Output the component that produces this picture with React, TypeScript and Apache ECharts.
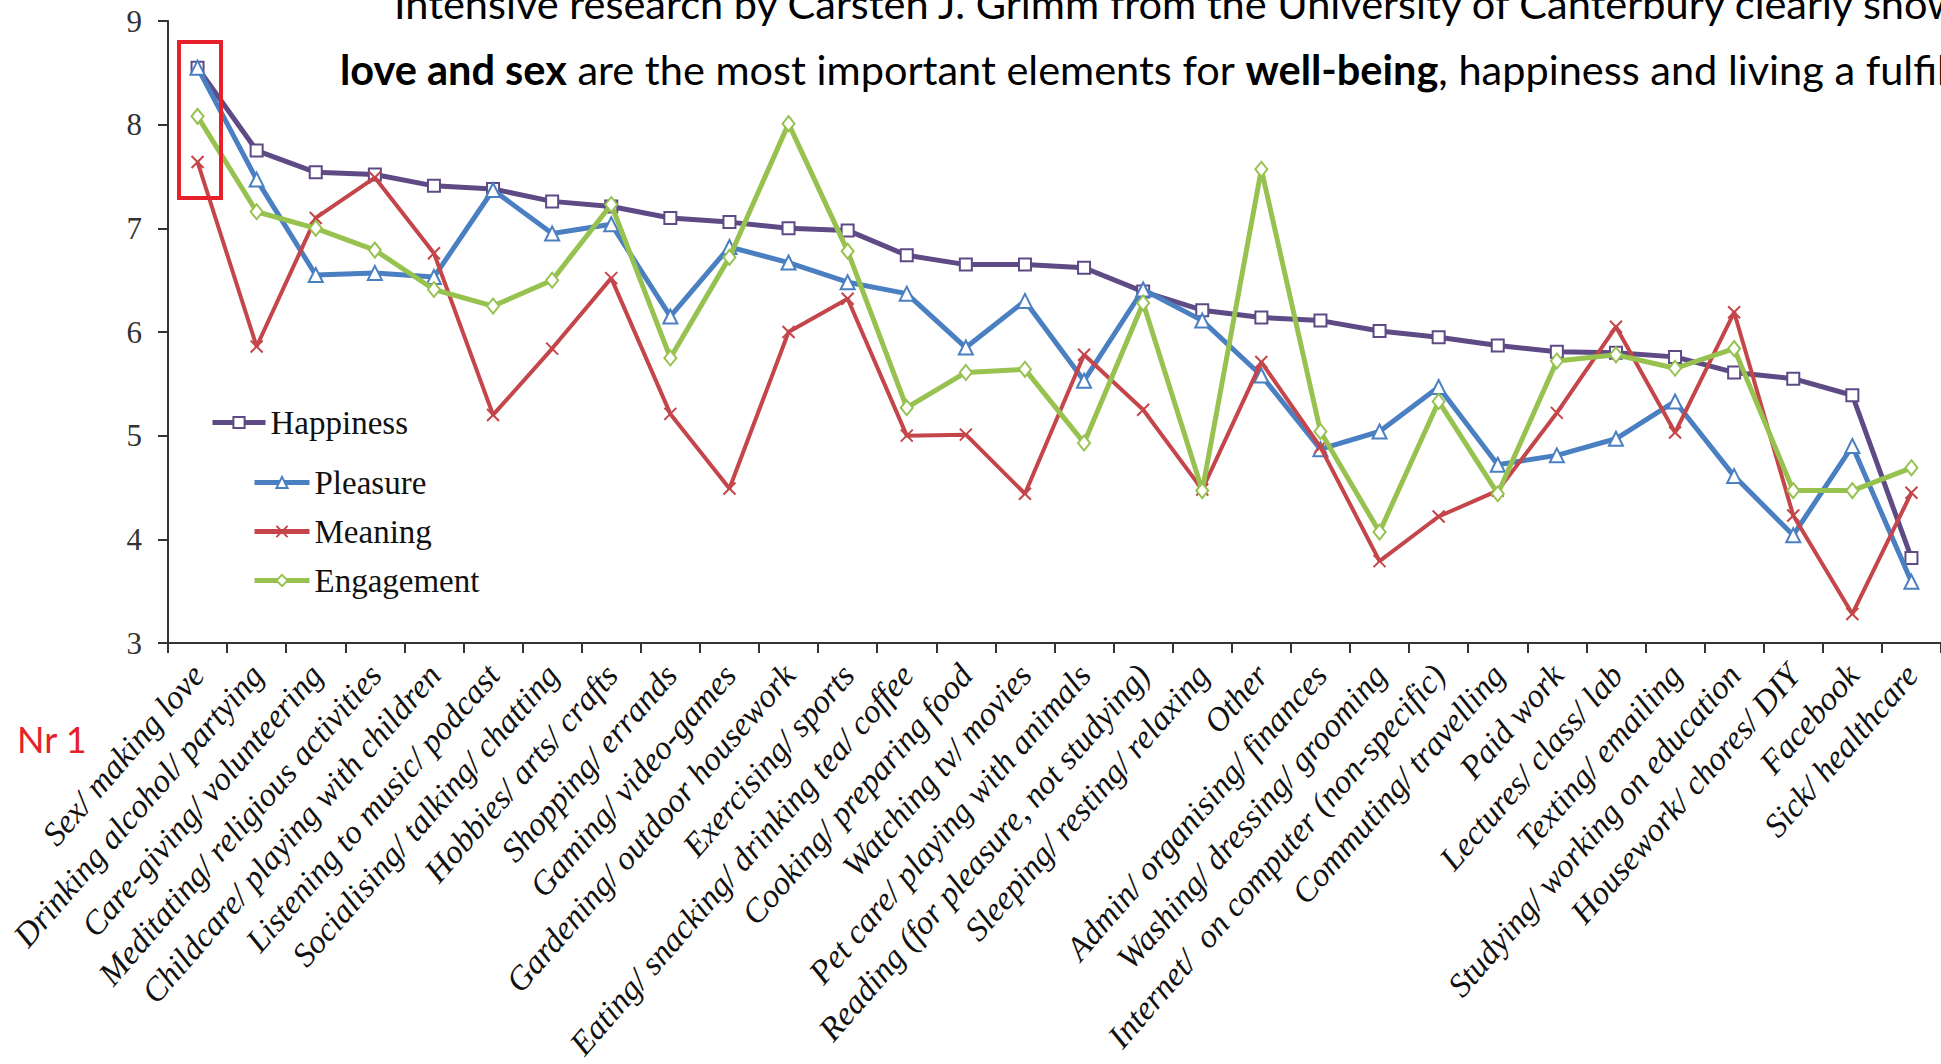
import React, { useEffect, useRef } from "react";
import * as echarts from "echarts";

const categories = [
  "Sex/ making love",
  "Drinking alcohol/ partying",
  "Care-giving/ volunteering",
  "Meditating/ religious activities",
  "Childcare/ playing with children",
  "Listening to music/ podcast",
  "Socialising/ talking/ chatting",
  "Hobbies/ arts/ crafts",
  "Shopping/ errands",
  "Gaming/ video-games",
  "Gardening/ outdoor housework",
  "Exercising/ sports",
  "Eating/ snacking/ drinking tea/ coffee",
  "Cooking/ preparing food",
  "Watching tv/ movies",
  "Pet care/ playing with animals",
  "Reading (for pleasure, not studying)",
  "Sleeping/ resting/ relaxing",
  "Other",
  "Admin/ organising/ finances",
  "Washing/ dressing/ grooming",
  "Internet/  on computer (non-specific)",
  "Commuting/ travelling",
  "Paid work",
  "Lectures/ class/ lab",
  "Texting/ emailing",
  "Studying/ working on education",
  "Housework/ chores/ DIY",
  "Facebook",
  "Sick/ healthcare",
];

const happiness = [8.55, 7.75, 7.54, 7.52, 7.41, 7.38, 7.26, 7.21, 7.1, 7.06, 7.0, 6.98, 6.74, 6.65, 6.65, 6.62, 6.39, 6.21, 6.14, 6.11, 6.01, 5.95, 5.87, 5.81, 5.8, 5.76, 5.61, 5.55, 5.39, 3.82];
const pleasure = [8.55, 7.47, 6.55, 6.57, 6.53, 7.37, 6.95, 7.04, 6.15, 6.82, 6.67, 6.48, 6.37, 5.85, 6.3, 5.53, 6.41, 6.11, 5.58, 4.87, 5.04, 5.47, 4.72, 4.81, 4.97, 5.33, 4.61, 4.04, 4.9, 3.59];
const meaning = [7.64, 5.86, 7.1, 7.49, 6.76, 5.2, 5.84, 6.52, 5.21, 4.49, 6.0, 6.32, 5.0, 5.01, 4.44, 5.78, 5.25, 4.48, 5.71, 4.89, 3.79, 4.22, 4.47, 5.22, 6.05, 5.03, 6.19, 4.23, 3.28, 4.45];
const engagement = [8.08, 7.16, 7.0, 6.79, 6.41, 6.25, 6.5, 7.23, 5.75, 6.72, 8.01, 6.78, 5.27, 5.61, 5.64, 4.93, 6.28, 4.47, 7.57, 5.04, 4.07, 5.33, 4.44, 5.72, 5.78, 5.65, 5.84, 4.47, 4.47, 4.69];

const seriesNames = ["Happiness", "Pleasure", "Meaning", "Engagement"];
const titleLine1 = "Intensive research by Carsten J. Grimm from the University of Canterbury clearly shows that";
const titleLine2 = "{b|love and sex} are the most important elements for {b|well-being}, happiness and living a fulfilled life.";
const noteText = "Nr 1";

const C_HAPPY = "#5e4a84";
const C_PLEAS = "#4a7fc1";
const C_MEAN = "#c4464a";
const C_ENG = "#97c250";
const SERIF = "'Liberation Serif', 'DejaVu Serif', serif";
const SANS = "Lato, 'Liberation Sans', sans-serif";

function mk(name: string, data: number[], color: string, symbol: string, size: any, lw: number, z: number) {
  return {
    type: "line",
    name,
    data,
    symbol,
    symbolSize: size,
    showSymbol: true,
    z,
    lineStyle: { color, width: lw },
    itemStyle: { color: "#fff", borderColor: color, borderWidth: 2 },
    emphasis: { disabled: true },
  };
}

export default function App() {
  const ref = useRef<HTMLDivElement>(null);
  useEffect(() => {
    const chart = echarts.init(ref.current!, null, { renderer: "svg" });
    const legendText = { fontFamily: SERIF, fontSize: 33, color: "#111" };
    chart.setOption({
      animation: false,
      backgroundColor: "#fff",
      grid: { left: 168, top: 21, width: 1785, height: 622, containLabel: false },
      xAxis: {
        type: "category",
        data: categories,
        boundaryGap: true,
        axisLine: { lineStyle: { color: "#333", width: 2 } },
        axisTick: { show: true, length: 10, interval: 0, lineStyle: { color: "#333", width: 2 } },
        axisLabel: {
          interval: 0,
          rotate: 49,
          margin: 26,
          fontFamily: SERIF,
          fontStyle: "italic",
          fontSize: 33.5,
          color: "#111",
        },
        splitLine: { show: false },
      },
      yAxis: {
        type: "value",
        min: 3,
        max: 9,
        interval: 1,
        axisLine: { show: true, lineStyle: { color: "#333", width: 2 } },
        axisTick: { show: true, length: 10, lineStyle: { color: "#333", width: 2 } },
        axisLabel: { fontFamily: SERIF, fontSize: 31, color: "#333", margin: 26 },
        splitLine: { show: false },
      },
      legend: [
        {
          data: [seriesNames[0]],
          orient: "vertical",
          left: 210,
          top: 406,
          padding: 0,
          itemWidth: 53,
          itemHeight: 14,
          selectedMode: false,
          lineStyle: { width: 5 },
          textStyle: legendText,
        },
        {
          data: seriesNames.slice(1),
          orient: "vertical",
          left: 252,
          top: 466,
          padding: 0,
          itemWidth: 55,
          itemHeight: 14,
          itemGap: 16,
          selectedMode: false,
          lineStyle: { width: 5 },
          textStyle: legendText,
        },
      ],
      series: [
        mk(seriesNames[0], happiness, C_HAPPY, "rect", 12, 5, 2),
        mk(seriesNames[1], pleasure, C_PLEAS, "triangle", 14, 5, 3),
        mk(seriesNames[2], meaning, C_MEAN, "path://M0,0L10,10M10,0L0,10", 12, 4, 4),
        mk(seriesNames[3], engagement, C_ENG, "diamond", [12, 15], 5, 5),
      ],
      graphic: [
        {
          type: "text",
          x: 394,
          y: 3,
          z: 50,
          style: { text: titleLine1, fontFamily: SANS, fontSize: 41.5, fill: "#000", verticalAlign: "middle" },
        },
        {
          type: "text",
          x: 340,
          y: 69,
          z: 50,
          style: {
            text: titleLine2,
            fontFamily: SANS,
            fontSize: 41.5,
            fill: "#000",
            verticalAlign: "middle",
            rich: { b: { fontFamily: SANS, fontSize: 41.5, fontWeight: "bold", fill: "#000" } },
          },
        },
        {
          type: "text",
          x: 17,
          y: 739,
          z: 50,
          style: { text: noteText, fontFamily: SANS, fontSize: 36, fill: "#e3222a", verticalAlign: "middle" },
        },
        {
          type: "rect",
          z: 100,
          shape: { x: 179, y: 42, width: 42, height: 156 },
          style: { fill: "none", stroke: "#e8202a", lineWidth: 4 },
        },
      ],
    });
    return () => chart.dispose();
  }, []);
  return (
    <div
      ref={ref}
      style={{ position: "fixed", left: 0, top: 0, width: 1941, height: 1064, background: "#fff" }}
    />
  );
}
